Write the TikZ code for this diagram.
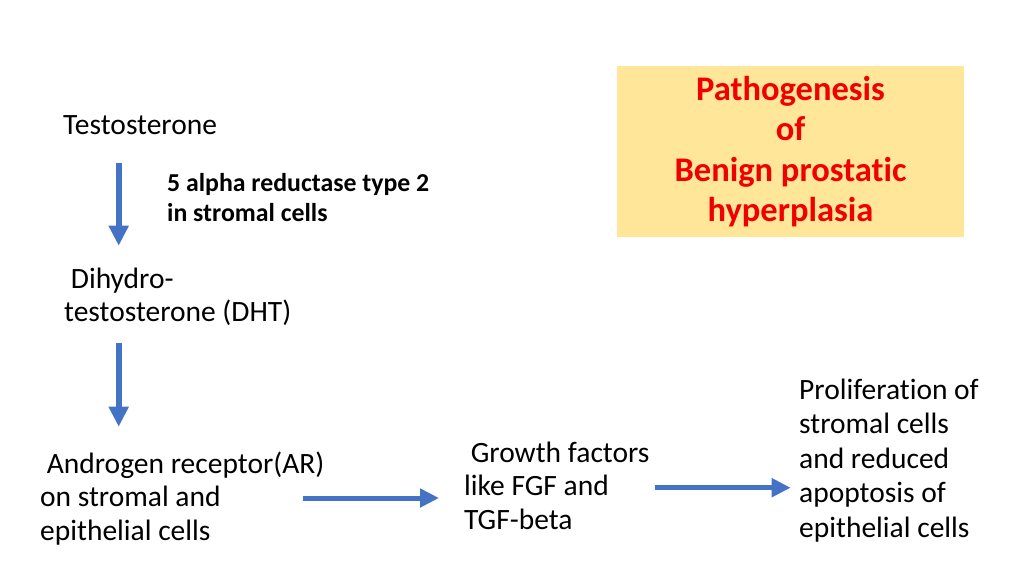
\documentclass[tikz,border=0pt]{standalone}
\usepackage{fontspec}
\setmainfont{Carlito}[Ligatures=NoCommon]
\usetikzlibrary{arrows.meta}
\definecolor{arrowblue}{HTML}{4472C4}
\definecolor{titlefill}{HTML}{FFE699}
\definecolor{titlered}{HTML}{F00000}
\tikzset{
  bodytext/.style={anchor=base west, inner sep=0pt, align=left, font=\fontsize{29.5}{33.5}\selectfont},
  widetext/.style={anchor=base west, inner sep=0pt, align=left, font=\fontsize{29.5}{34.5}\selectfont},
  enzymetext/.style={anchor=base west, inner sep=0pt, align=left, font=\fontsize{25.8}{30}\selectfont\bfseries},
  titlebox/.style={fill=titlefill, draw=none, minimum width=347pt, minimum height=171pt, inner sep=0pt, align=center, text=titlered, font=\fontsize{34.5}{40.5}\selectfont\bfseries},
  vflow/.style={arrowblue, line width=6pt, -{Triangle[length=20pt, width=19pt]}},
  hflow/.style={arrowblue, line width=5pt, -{Triangle[length=19pt, width=18pt]}}
}
\begin{document}
\begin{tikzpicture}[x=1pt, y=-1pt]
\useasboundingbox (0,0) rectangle (1024,576);
\fill[white] (0,0) rectangle (1024,576);

\node[titlebox] (title) at (790.5,151.5) {Pathogenesis\\of\\Benign prostatic\\hyperplasia};

% base anchor of a multi-line node is the baseline of its last line
\node[bodytext] (testo) at (63,134.3) {Testosterone};
\node[enzymetext] (enzyme) at (167,221.7) {5 alpha reductase type 2\\in stromal cells};
\node[bodytext] (dht) at (64,321.8) {\ Dihydro-\\testosterone (DHT)};
\node[bodytext] (ar) at (40,540) {\ Androgen receptor(AR)\\on stromal and\\epithelial cells};
\node[bodytext] (gf) at (464,529.3) {\ Growth factors\\like FGF and\\TGF-beta};
\node[widetext] (prolif) at (799,537.3) {Proliferation of\\stromal cells\\and reduced\\apoptosis of\\epithelial cells};

\coordinate (a1s) at (118.7,163);
\coordinate (a1e) at (118.7,245.7);
\coordinate (a2s) at (118.7,343);
\coordinate (a2e) at (118.7,426.7);
\coordinate (a3s) at (302.7,498);
\coordinate (a3e) at (439,498);
\coordinate (a4s) at (655,487.7);
\coordinate (a4e) at (790.7,487.7);

\draw[vflow] (a1s) -- (a1e);
\draw[vflow] (a2s) -- (a2e);
\draw[hflow] (a3s) -- (a3e);
\draw[hflow] (a4s) -- (a4e);
\end{tikzpicture}
\end{document}
